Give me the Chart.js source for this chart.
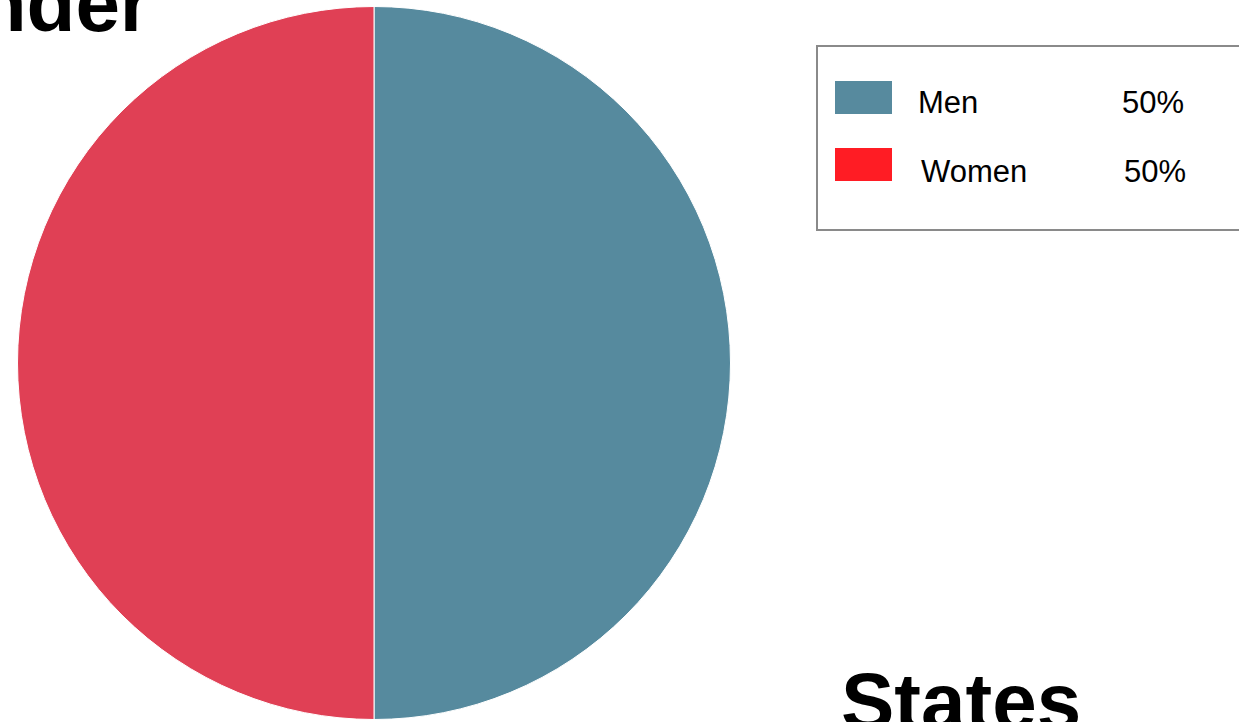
<!DOCTYPE html>
<html>
<head>
<meta charset="utf-8">
<script src="https://cdn.jsdelivr.net/npm/chart.js@4/dist/chart.umd.min.js"></script>
<style>
  html, body { margin:0; padding:0; background:#fff; }
  #page { position:relative; width:1239px; height:722px; overflow:hidden; font-family:"Liberation Sans", Arial, sans-serif; }
  .title { position:absolute; font-weight:bold; font-size:80px; line-height:1; color:#000; white-space:nowrap; }
  #pie-wrap { position:absolute; left:17px; top:6px; width:714px; height:714px; }
  #legend { position:absolute; left:816px; top:45px; width:500px; height:182px; border:2px solid #8a8a8a; box-sizing:content-box; }
  .sw { position:absolute; width:57px; height:33px; }
  .lg-txt { position:absolute; font-size:31px; line-height:1; color:#000; white-space:nowrap; }
</style>
</head>
<body>
<div id="page">
  <div class="title" style="right:calc(100% - 151px); top:-36px;">Gender</div>
  <div id="pie-wrap"><canvas id="chart-gender"></canvas></div>
  <div id="legend"></div>
  <div class="title" style="left:841px; top:662px;">States</div>
</div>
<script>
// ===== DONNÉES =====
const genderLabels = ['Men', 'Women'];
const genderValues = [50, 50];
const sliceColors = ['#568A9E', '#E04055'];
const swatchColors = ['#578A9E', '#FF1C24']; // la légende d'origine utilise un rouge plus vif

function renderLegend() {
  const el = document.getElementById('legend');
  const total = genderValues.reduce((s,v)=>s+v,0);
  el.innerHTML = genderLabels.map((lab,i) => {
    const pct = Math.round(genderValues[i]/total*100) + '%';
    const top = 34 + i*67;            // relatif à la boîte
    const txtTop = 40 + i*69;
    return '<div class="sw" style="left:17px;top:' + top + 'px;background:' + swatchColors[i] + '"></div>' +
      '<div class="lg-txt" style="left:' + (100 + i*3) + 'px;top:' + txtTop + 'px">' + lab + '</div>' +
      '<div class="lg-txt" style="left:' + (304 + i*2) + 'px;top:' + txtTop + 'px">' + pct + '</div>';
  }).join('');
}

function renderPie() {
  const ctx = document.getElementById('chart-gender');
  new Chart(ctx, {
    type: 'pie',
    data: { labels: genderLabels, datasets: [{ data: genderValues, backgroundColor: sliceColors, borderColor:'#ffffff', borderWidth:1 }] },
    options: { responsive:true, maintainAspectRatio:false, animation:false,
      layout:{ padding:0 },
      plugins:{ legend:{display:false}, tooltip:{enabled:false} }
    }
  });
}

renderLegend();
renderPie();
</script>
</body>
</html>
